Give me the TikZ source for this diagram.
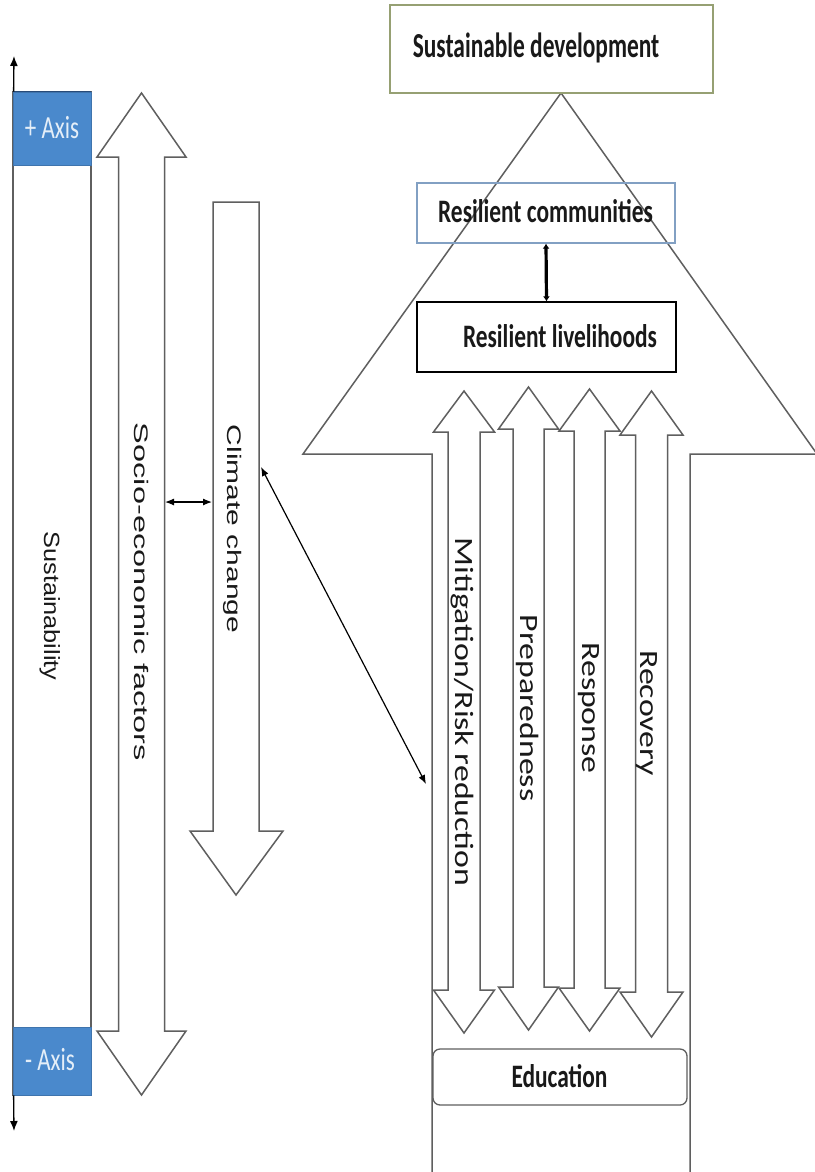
\documentclass[tikz,border=0pt]{standalone}
\usepackage{fontspec}
\usepackage{graphicx}
\setmainfont{Carlito}
\newfontfamily\arialfam{Liberation Sans}
\usetikzlibrary{arrows.meta}

\definecolor{linegray}{RGB}{95,95,95}
\definecolor{axisblue}{RGB}{74,137,204}
\definecolor{axisedge}{RGB}{40,75,120}
\definecolor{axistext}{RGB}{228,238,248}
\definecolor{sdedge}{RGB}{150,160,115}
\definecolor{rcedge}{RGB}{130,160,195}
\definecolor{ink}{RGB}{25,25,25}

% vertical double-headed block arrow:
% centre x, top tip, top head base, bottom head base, bottom tip, shaft half width, head half width
\newcommand\dblblock[7]{%
  \filldraw[blockline] (#1,#2) -- ({#1+#7},#3) -- ({#1+#6},#3) -- ({#1+#6},#4)
    -- ({#1+#7},#4) -- (#1,#5) -- ({#1-#7},#4) -- ({#1-#6},#4) -- ({#1-#6},#3)
    -- ({#1-#7},#3) -- cycle;}

% stretched text helpers
\newcommand\tallword[1]{\scalebox{1}[1.4]{#1}}
\newcommand\longword[2]{\scalebox{#1}[1]{#2}}

\tikzset{
  blockline/.style={draw=linegray, fill=white, line width=1.5pt, line join=miter},
  sbar/.style={draw=linegray, fill=white, line width=1.5pt, minimum width=78pt,
    minimum height=1003pt, inner sep=0pt},
  axisbox/.style={fill=axisblue, draw=axisblue!85!black, line width=0.8pt,
    minimum width=78pt, inner sep=0pt},
  axislabel/.style={anchor=base, inner sep=0pt, text=axistext,
    font=\fontsize{23}{28}\selectfont},
  axisline/.style={draw=black, line width=1.3pt, -{Latex[length=10pt,width=8pt]}},
  hbox/.style={inner sep=0pt, line width=1.3pt},
  htext/.style={anchor=base, inner sep=0pt, text=ink,
    font=\bfseries\fontsize{23.4}{28}\selectfont},
  vtextA/.style={rotate=-90, anchor=base, inner sep=0pt, text=ink,
    font=\arialfam\fontsize{19.6}{24}\selectfont},
  vtextB/.style={rotate=-90, anchor=base, inner sep=0pt, text=ink,
    font=\fontsize{26.4}{30}\selectfont},
  link/.style={draw=black, line width=1.2pt, {Latex[length=9pt,width=7pt]}-{Latex[length=9pt,width=7pt]}},
  thicklink/.style={draw=black, line width=3.2pt, {Latex[length=5pt,width=7pt]}-{Latex[length=5pt,width=7pt]}}
}

\begin{document}
\begin{tikzpicture}[x=1pt,y=-1pt]
\fill[white] (0,0) rectangle (814,1172);
\useasboundingbox (0,0) rectangle (814,1172);

% ---- sustainability axis ----
\node[sbar] (bar) at (52,593.5) {};
\node[axisbox, minimum height=73pt] (plus) at (52,128.5) {};
\node[axisbox, minimum height=68pt] (minus) at (52,1061) {};
\draw[axisedge, line width=1.4pt] (plus.north west) -- (plus.north east);
\node[axislabel] (plustext) at (52,138) {\tallword{+ Axis}};
\node[axislabel] (minustext) at (50,1070) {\tallword{- Axis}};
\coordinate (axtop) at (14,56);
\coordinate (axbot) at (14,1131);
\draw[axisline] ([xshift=1pt]plus.north west) -- (axtop);
\draw[axisline] ([xshift=1pt]minus.south west) -- (axbot);
\node[vtextA, font=\arialfam\fontsize{22}{26}\selectfont] (sust) at (44,606) {\longword{1.15}{Sustainability}};

% ---- socio-economic factors ----
\dblblock{141.5}{93}{157}{1031}{1095}{23}{44.5}
\node[vtextA] (socio) at (134,592) {\longword{1.66}{Socio-economic factors}};

% ---- climate change ----
\filldraw[blockline] (213,202) -- (259,202) -- (259,831) -- (283,831)
  -- (236,895) -- (190,831) -- (213,831) -- cycle;
\node[vtextA] (climate) at (227,529) {\longword{1.53}{Climate change}};

% ---- large upward arrow ----
\filldraw[blockline] (561,93) -- (817,454) -- (690,454) -- (690,1180)
  -- (432,1180) -- (432,454) -- (303,454) -- cycle;

% ---- goal boxes ----
\node[hbox, draw=sdedge, fill=white, minimum width=323pt, minimum height=88pt] (sd) at (551.5,49) {};
\node[htext] (sdtext) at (536,57) {\scalebox{1}[1.5]{Sustainable development}};
\node[hbox, draw=rcedge, minimum width=258pt, minimum height=60pt] (rc) at (546,213) {};
\node[htext] (rctext) at (545.5,222) {\tallword{Resilient communities}};
\node[hbox, draw=black, fill=white, minimum width=259pt, minimum height=70pt] (rl) at (546.5,337) {};
\node[htext] (rltext) at (560,347) {\tallword{Resilient livelihoods}};
\draw[thicklink] (rc.south) -- (rl.north);

% ---- disaster cycle phases ----
\dblblock{464}{391}{432}{990}{1033}{16}{30.5}
\dblblock{528.5}{387}{429}{987}{1030}{15.5}{30}
\dblblock{589.5}{389}{431}{988}{1031}{15.5}{30.5}
\dblblock{651.5}{391}{435}{992}{1037}{16}{31.5}
\node[vtextB] (mitig) at (455,712) {\longword{1.28}{Mitigation/Risk reduction}};
\node[vtextB] (prep) at (520,708) {\longword{1.28}{Preparedness}};
\node[vtextB] (resp) at (582,708) {\longword{1.28}{Response}};
\node[vtextB] (recov) at (640,713) {\longword{1.28}{Recovery}};

% ---- education ----
\node[hbox, draw=linegray, fill=white, rounded corners=7pt, minimum width=254pt, minimum height=56pt] (edu) at (560,1077) {};
\node[htext] (edutext) at (559.5,1087) {\tallword{Education}};

% ---- links ----
\coordinate (socioR) at (165,502);
\coordinate (climL) at (212,502);
\coordinate (climR) at (261,467);
\coordinate (shaftL) at (426,784);
\draw[link] (socioR) -- (climL);
\draw[link] (climR) -- (shaftL);
\end{tikzpicture}
\end{document}
